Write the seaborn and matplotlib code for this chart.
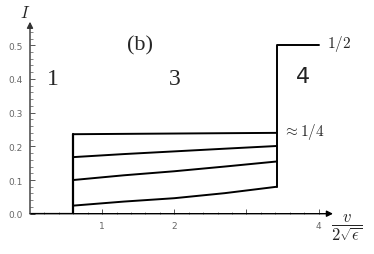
"""
Current I versus scaled velocity v/(2 sqrt(eps)), panel (b):
regions 1, 3 and 4 with the family of curves in region 3.
"""
import numpy as np
import pandas as pd
from matplotlib import pyplot as plt
import seaborn as sns

# Curves in region 3, sampled at these velocities
v_region3 = [0.6, 1.3, 2.0, 2.7, 3.42]
i_curve_a = [0.236, 0.237, 0.238, 0.239, 0.240]
i_curve_b = [0.168, 0.177, 0.185, 0.193, 0.201]
i_curve_c = [0.100, 0.114, 0.126, 0.140, 0.155]
i_curve_d = [0.024, 0.036, 0.046, 0.061, 0.080]

# Region 1 (I = 0) and the step up into region 4 (I = 1/2)
v_left = [0.0, 0.6, 0.6]
i_left = [0.0, 0.0, 0.236]
v_jump = [3.42, 3.42, 4.0]
i_jump = [0.080, 0.5, 0.5]

x_ticks = [1, 2, 3, 4]
x_ticklabels = ["1", "2", "", "4"]
y_ticks = [0.0, 0.1, 0.2, 0.3, 0.4, 0.5]

curves = pd.concat(
    [
        pd.DataFrame({"v": v_region3, "I": vals, "curve": name})
        for name, vals in zip("abcd", [i_curve_a, i_curve_b, i_curve_c, i_curve_d])
    ]
)

sns.set_style("white")
plt.rcParams["mathtext.fontset"] = "cm"

fig = plt.figure(figsize=(3.74, 2.55), dpi=100)
ax = fig.add_axes([30 / 374, 40.3 / 255, 303 / 374, 192 / 255])

sns.lineplot(
    data=curves, x="v", y="I", units="curve", estimator=None,
    sort=False, color="black", lw=1.4, ax=ax,
)
sns.lineplot(x=v_left, y=i_left, estimator=None, sort=False,
             color="black", lw=1.6, ax=ax)
sns.lineplot(x=v_jump, y=i_jump, estimator=None, sort=False,
             color="black", lw=1.4, ax=ax)

ax.set_xlim(0, 4.2)
ax.set_ylim(0, 0.57)
for s in ["top", "right", "left", "bottom"]:
    ax.spines[s].set_visible(False)

# axis arrows
ax.annotate("", xy=(1, 0), xytext=(0, 0), xycoords="axes fraction",
            arrowprops=dict(arrowstyle="-|>", color="black", lw=1.0,
                            mutation_scale=9, shrinkA=0, shrinkB=0))
ax.annotate("", xy=(0, 1), xytext=(0, 0), xycoords="axes fraction",
            arrowprops=dict(arrowstyle="-|>", color="#333333", lw=1.0,
                            mutation_scale=9, shrinkA=0, shrinkB=0))

ax.set_xticks(x_ticks)
ax.set_xticklabels(x_ticklabels)
ax.set_yticks(y_ticks)
ax.set_yticklabels(["%.1f" % y for y in y_ticks])
ax.set_xticks(np.arange(0.2, 4.01, 0.2), minor=True)
ax.set_yticks(np.arange(0.02, 0.55, 0.02), minor=True)
ax.tick_params(which="both", direction="in", colors="#555555",
               labelsize=6.5, left=True, bottom=True)
ax.tick_params(which="major", length=3.5, width=0.7, pad=5)
ax.tick_params(which="minor", length=1.8, width=0.5)
ax.set_xlabel("")
ax.set_ylabel("")
for lab in ax.get_xticklabels() + ax.get_yticklabels():
    lab.set_color("#666666")

serif = "Liberation Serif"
ax.text(1.53, 0.50, "(b)", fontsize=16, family=serif, ha="center", va="center")
ax.text(0.31, 0.40, "1", fontsize=17, family=serif, ha="center", va="center")
ax.text(2.01, 0.40, "3", fontsize=17, family=serif, ha="center", va="center")
ax.text(3.78, 0.41, "4", fontsize=16, ha="center", va="center", color="#222222")
ax.text(4.12, 0.507, r"$1/2$", fontsize=11, ha="left", va="center")
ax.text(3.51, 0.246, r"$\approx 1/4$", fontsize=11, ha="left", va="center")

fig.text(25 / 374, 1 - 12.5 / 255, r"$I$", fontsize=12, ha="center", va="center")
fig.text(347 / 374, 1 - 228 / 255, r"$\dfrac{v}{2\sqrt{\epsilon}}$",
         fontsize=12, ha="center", va="center")

plt.savefig("out.png", dpi=100)
